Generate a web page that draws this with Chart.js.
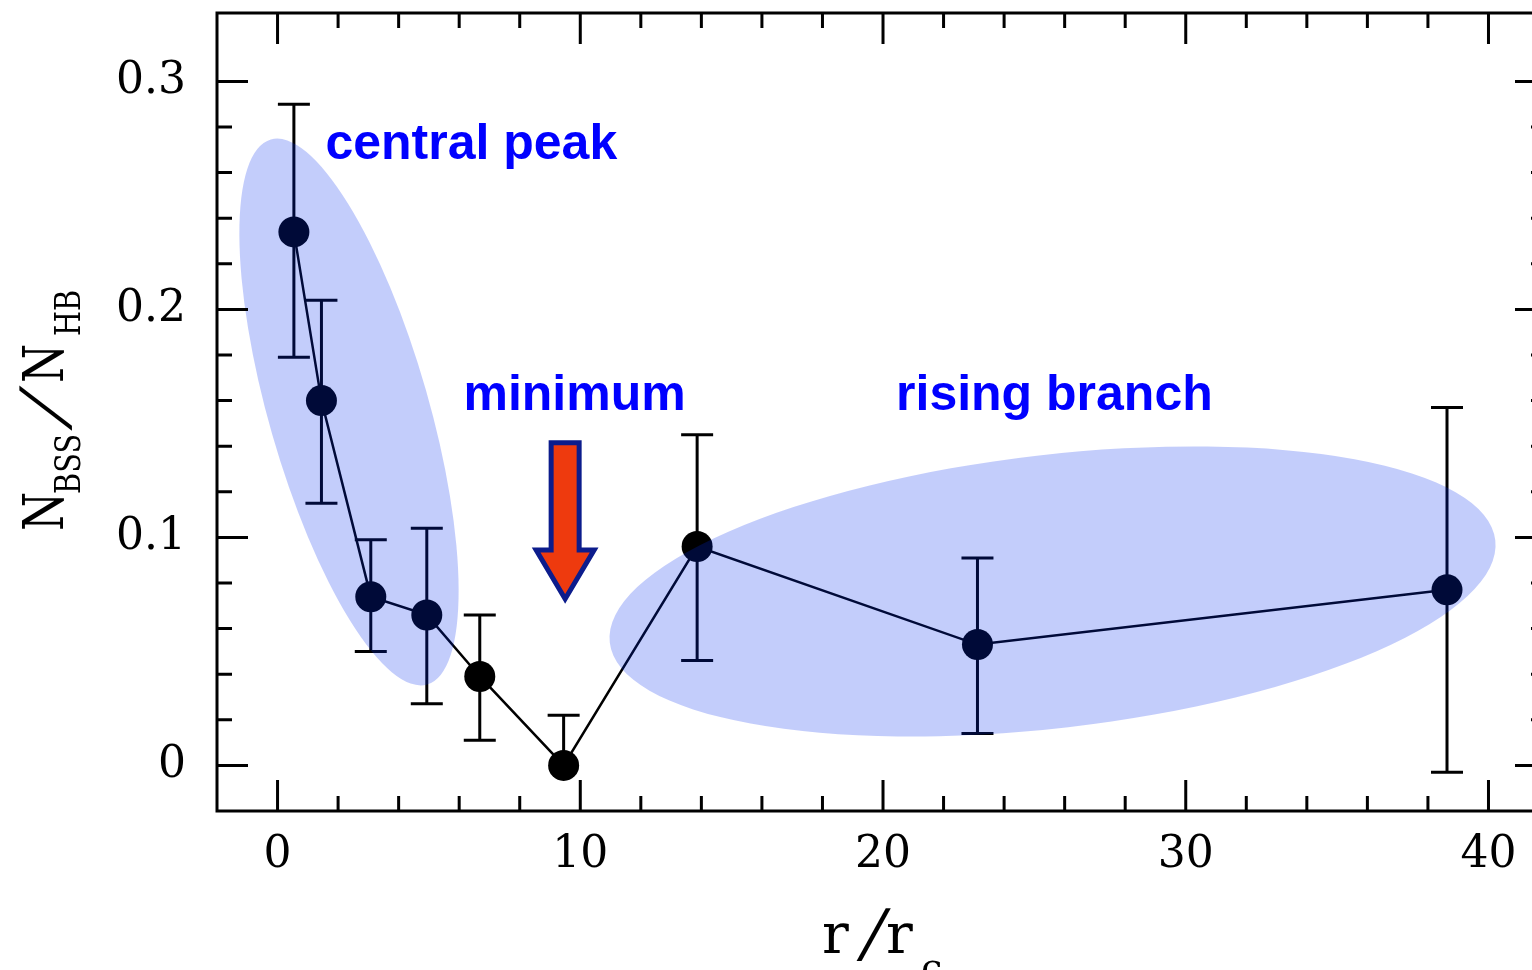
<!DOCTYPE html>
<html>
<head>
<meta charset="utf-8">
<script src="https://cdn.jsdelivr.net/npm/chart.js@4.4.1/dist/chart.umd.min.js"></script>
<style>
  html, body { margin: 0; padding: 0; background: #fff; overflow: hidden; }
  #wrap { width: 1550px; height: 970px; }
</style>
</head>
<body>
<div id="wrap"><canvas id="bssChart" width="1550" height="970"></canvas></div>
<script>
// radial distance in core radii, and BSS/HB ratio with error bar ends
const radius = [0.54, 1.45, 3.08, 4.93, 6.68, 9.45, 13.86, 23.12, 38.63];
const ratio = [0.234, 0.160, 0.074, 0.066, 0.039, 0.000, 0.096, 0.053, 0.077];
const ratioHigh = [0.290, 0.204, 0.099, 0.104, 0.066, 0.022, 0.145, 0.091, 0.157];
const ratioLow = [0.179, 0.115, 0.050, 0.027, 0.011, 0.000, 0.046, 0.014, -0.003];

const xMajor = [0, 10, 20, 30, 40];
const yMajor = [0, 0.1, 0.2, 0.3];
const xTickLabels = ["0", "10", "20", "30", "40"];
const yTickLabels = ["0", "0.1", "0.2", "0.3"];

const regionLabels = ["central peak", "minimum", "rising branch"];

const FONT_SERIF = "'DejaVu Serif', serif";
const FONT_LABEL = "bold 50px 'Liberation Sans', Arial, sans-serif";

// region annotations (data coords for anchors)
const labelAnchors = [
  { x: 1.58, y: 0.266 },
  { x: 6.14, y: 0.1557 },
  { x: 20.43, y: 0.1557 },
];
const regionEllipses = [
  { cx: 2.36, cy: 0.155, rx: 80, ry: 283.5, rot: -16 },
  { cx: 25.6, cy: 0.0763, rx: 445.7, ry: 136.6, rot: -6.6 },
];
const arrowSpec = { x: 9.5, top: 0.1415, headBase: 0.0945, tip: 0.073 };

const errorBars = {
  id: "errorBars",
  beforeDatasetsDraw(chart) {
    const { ctx, scales: { x, y } } = chart;
    ctx.save();
    ctx.strokeStyle = "#000";
    ctx.lineWidth = 3;
    radius.forEach((r, i) => {
      const px = x.getPixelForValue(r);
      const hi = y.getPixelForValue(ratioHigh[i]);
      const lo = y.getPixelForValue(ratioLow[i]);
      ctx.beginPath();
      ctx.moveTo(px, hi);
      ctx.lineTo(px, lo);
      ctx.moveTo(px - 16, hi);
      ctx.lineTo(px + 16, hi);
      if (ratioLow[i] !== ratio[i]) {
        ctx.moveTo(px - 16, lo);
        ctx.lineTo(px + 16, lo);
      }
      ctx.stroke();
    });
    ctx.restore();
  },
};

// text pieces for the composed axis titles (sub-scripts, wide slash)
function drawPieces(ctx, pieces) {
  pieces.forEach((p) => {
    ctx.save();
    ctx.translate(p.x, p.y);
    if (p.rot) ctx.rotate(p.rot);
    ctx.transform(p.sx || 1, 0, p.skew || 0, 1, 0, 0);
    ctx.font = `${p.size}px ${FONT_SERIF}`;
    ctx.fillText(p.text, 0, p.shift || 0);
    ctx.restore();
  });
}

const overlay = {
  id: "overlay",
  afterDatasetsDraw(chart) {
    const { ctx, chartArea: a, scales: { x, y } } = chart;
    ctx.save();

    // shaded regions
    ctx.fillStyle = "rgba(0, 42, 238, 0.235)";
    regionEllipses.forEach((e) => {
      ctx.beginPath();
      ctx.ellipse(x.getPixelForValue(e.cx), y.getPixelForValue(e.cy), e.rx, e.ry, e.rot * Math.PI / 180, 0, Math.PI * 2);
      ctx.fill();
    });

    // arrow pointing at the minimum
    const ax = x.getPixelForValue(arrowSpec.x);
    const aTop = y.getPixelForValue(arrowSpec.top);
    const aBase = y.getPixelForValue(arrowSpec.headBase);
    const aTip = y.getPixelForValue(arrowSpec.tip);
    ctx.beginPath();
    ctx.moveTo(ax - 14, aTop);
    ctx.lineTo(ax + 14, aTop);
    ctx.lineTo(ax + 14, aBase);
    ctx.lineTo(ax + 29, aBase);
    ctx.lineTo(ax, aTip);
    ctx.lineTo(ax - 29, aBase);
    ctx.lineTo(ax - 14, aBase);
    ctx.closePath();
    ctx.fillStyle = "#ee3a0e";
    ctx.fill();
    ctx.lineWidth = 5;
    ctx.lineJoin = "miter";
    ctx.strokeStyle = "#0c1c8c";
    ctx.stroke();

    // region labels
    ctx.fillStyle = "#0000ff";
    ctx.font = FONT_LABEL;
    ctx.textBaseline = "alphabetic";
    ctx.textAlign = "left";
    regionLabels.forEach((t, i) => {
      ctx.fillText(t, x.getPixelForValue(labelAnchors[i].x), y.getPixelForValue(labelAnchors[i].y));
    });

    // frame and tick marks
    ctx.strokeStyle = "#000";
    ctx.lineWidth = 3;
    ctx.strokeRect(a.left, a.top, a.right - a.left, a.bottom - a.top);
    ctx.beginPath();
    for (let i = 0; i <= 20; i++) {
      const px = x.getPixelForValue(i * 2);
      const len = i % 5 === 0 ? 31 : 15;
      ctx.moveTo(px, a.bottom);
      ctx.lineTo(px, a.bottom - len);
      ctx.moveTo(px, a.top);
      ctx.lineTo(px, a.top + len);
    }
    for (let i = 1; i <= 16; i++) {
      const py = y.getPixelForValue(i * 0.02 - 0.02);
      const len = (i - 1) % 5 === 0 ? 31 : 15;
      ctx.moveTo(a.left, py);
      ctx.lineTo(a.left + len, py);
      ctx.moveTo(a.right, py);
      ctx.lineTo(a.right - len, py);
    }
    ctx.stroke();

    // axis titles
    ctx.fillStyle = "#000";
    ctx.textAlign = "left";
    drawPieces(ctx, [
      { text: "r", size: 56, x: 822, y: 953 },
      { text: "/", size: 64, x: 858, y: 955, skew: -0.24 },
      { text: "r", size: 56, x: 886, y: 953 },
      { text: "c", size: 38, x: 921, y: 980 },
    ]);
    const up = -Math.PI / 2;
    drawPieces(ctx, [
      { text: "N", size: 56, x: 63, y: 531, rot: up, sx: 0.8 },
      { text: "BSS", size: 36, x: 80, y: 494, rot: up, sx: 0.8 },
      { text: "/", size: 64, x: 66, y: 428, rot: up, skew: -0.45 },
      { text: "N", size: 56, x: 63, y: 383, rot: up, sx: 0.8 },
      { text: "HB", size: 36, x: 80, y: 336, rot: up, sx: 0.8 },
    ]);
    ctx.restore();
  },
};

const points = radius.map((r, i) => ({ x: r, y: ratio[i] }));

new Chart(document.getElementById("bssChart"), {
  type: "scatter",
  data: {
    datasets: [{
      data: points,
      showLine: true,
      borderColor: "#000",
      borderWidth: 2.5,
      pointRadius: 15.5,
      pointHoverRadius: 15.5,
      pointBackgroundColor: "#000",
      pointBorderWidth: 0,
    }],
  },
  options: {
    responsive: false,
    animation: false,
    devicePixelRatio: 1,
    events: [],
    layout: { autoPadding: false, padding: { left: 0, top: 13, right: 4, bottom: 0 } },
    plugins: { legend: { display: false }, tooltip: { enabled: false } },
    scales: {
      x: {
        type: "linear",
        min: -2,
        max: 41.9,
        grid: { display: false, drawTicks: false },
        border: { display: false },
        afterBuildTicks: (s) => { s.ticks = xMajor.map((v) => ({ value: v })); },
        afterFit: (s) => { s.height = 159; s.paddingLeft = 0; s.paddingRight = 0; },
        ticks: {
          padding: 18,
          color: "#000",
          maxRotation: 0,
          autoSkip: false,
          font: { family: FONT_SERIF, size: 44 },
          callback: (v, i) => xTickLabels[i],
        },
      },
      y: {
        type: "linear",
        min: -0.02,
        max: 0.33,
        grid: { display: false, drawTicks: false },
        border: { display: false },
        afterBuildTicks: (s) => { s.ticks = yMajor.map((v) => ({ value: v })); },
        afterFit: (s) => { s.width = 217; s.paddingTop = 0; s.paddingBottom = 0; },
        ticks: {
          padding: 31,
          color: "#000",
          autoSkip: false,
          font: { family: FONT_SERIF, size: 44 },
          callback: (v, i) => yTickLabels[i],
        },
      },
    },
  },
  plugins: [errorBars, overlay],
});
</script>
</body>
</html>
